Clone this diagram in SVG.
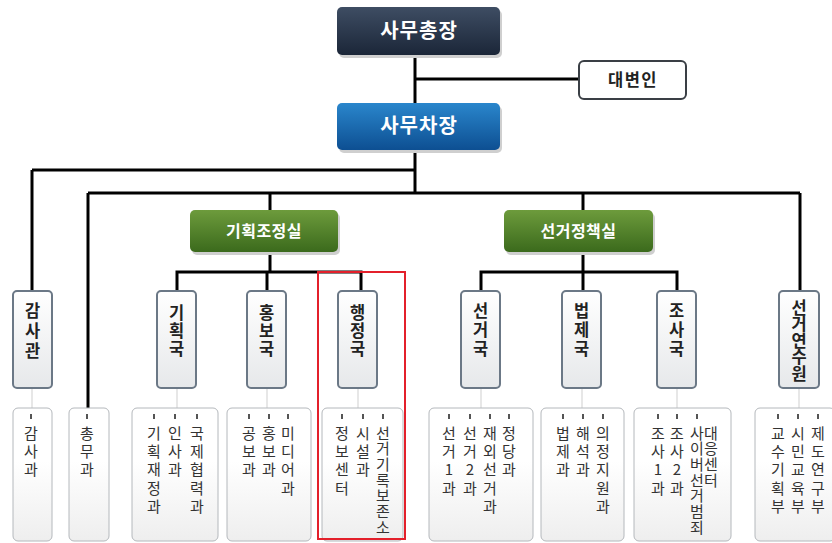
<svg xmlns="http://www.w3.org/2000/svg" width="832" height="543" viewBox="0 0 832 543">
<defs>
<linearGradient id="gNavy" x1="0" y1="0" x2="0" y2="1"><stop offset="0" stop-color="#3e4d63"/><stop offset="1" stop-color="#1b2638"/></linearGradient>
<linearGradient id="gBlue" x1="0" y1="0" x2="0" y2="1"><stop offset="0" stop-color="#2a86cc"/><stop offset="1" stop-color="#0d4f92"/></linearGradient>
<linearGradient id="gGreen" x1="0" y1="0" x2="0" y2="1"><stop offset="0" stop-color="#6d9b3c"/><stop offset="1" stop-color="#3b6a1c"/></linearGradient>
<linearGradient id="gMid" x1="0" y1="0" x2="0" y2="1"><stop offset="0" stop-color="#ffffff"/><stop offset="1" stop-color="#e6e8ea"/></linearGradient>
<linearGradient id="gSub" x1="0" y1="0" x2="0" y2="1"><stop offset="0.4" stop-color="#ffffff"/><stop offset="1" stop-color="#eeeeee"/></linearGradient>
</defs>
<style>
.t{font-family:"Noto Sans CJK KR","Noto Sans",sans-serif}
.top{fill:#fff;font-size:20px;font-weight:bold;text-anchor:middle;letter-spacing:1px}
.grn{fill:#fff;font-size:16px;font-weight:bold;text-anchor:middle;letter-spacing:0.5px}
.v{writing-mode:vertical-rl;text-orientation:upright}
.mid{fill:#222;font-size:16.5px;font-weight:bold;letter-spacing:1.5px}
.sub{fill:#333;font-size:15px;letter-spacing:3.3px}
.tight{letter-spacing:0.7px}
.shadow{fill:#cfcfcf}
.midbox{fill:url(#gMid);stroke:#6b7886;stroke-width:2}
.subbox{fill:url(#gSub);stroke:#b4b8bc;stroke-width:1}
.ln{stroke:#000;stroke-width:3;fill:none}
.thin{stroke:#cfcfcf;stroke-width:1;fill:none}
.dot{fill:#555}
</style>

<g id="connectors">
<path class="ln" d="M415 55V193"/>
<path class="ln" d="M415 79H579"/>
<path class="ln" d="M32 170H415"/>
<path class="ln" d="M32 170V291"/>
<path class="ln" d="M88 193H800"/>
<path class="ln" d="M88 193V408"/>
<path class="ln" d="M270 193V210"/>
<path class="ln" d="M583 193V210"/>
<path class="ln" d="M800 193V291"/>
<path class="ln" d="M270 252V272"/>
<path class="ln" d="M177 291V272H361V291"/>
<path class="ln" d="M267 272V291"/>
<path class="ln" d="M583 252V272"/>
<path class="ln" d="M481 291V272H677V291"/>
<path class="ln" d="M583 272V291"/>
<path class="thin" d="M32 389V408M177 389V408M267 389V408M358 389V408M481 389V408M582 389V408M677 389V408M799 389V408"/>
</g>

<g id="n-sec-gen">
<rect class="shadow" x="339" y="10" width="163" height="48" rx="5"/>
<rect x="337" y="7" width="163" height="48" rx="5" fill="url(#gNavy)"/>
<text class="t top" x="419" y="38" font-size="21">사무총장</text>
</g>
<g id="n-spokes">
<rect x="579" y="61" width="107" height="38" rx="5" fill="#fff" stroke="#3a3f45" stroke-width="2"/>
<text class="t" x="633" y="86" font-size="16.5" font-weight="bold" fill="#222" text-anchor="middle" letter-spacing="1.5">대변인</text>
</g>
<g id="n-dep-sec">
<rect class="shadow" x="339" y="106" width="163" height="47" rx="5"/>
<rect x="337" y="103" width="163" height="47" rx="5" fill="url(#gBlue)"/>
<text class="t top" x="419" y="133">사무차장</text>
</g>
<g id="n-plan-office">
<rect class="shadow" x="192" y="213" width="148" height="42" rx="5"/>
<rect x="190" y="210" width="148" height="42" rx="5" fill="url(#gGreen)"/>
<text class="t grn" x="264" y="237">기획조정실</text>
</g>
<g id="n-policy-office">
<rect class="shadow" x="506" y="213" width="149" height="42" rx="5"/>
<rect x="504" y="210" width="149" height="42" rx="5" fill="url(#gGreen)"/>
<text class="t grn" x="578.5" y="237">선거정책실</text>
</g>

<g id="n-audit">
<rect class="midbox" x="13" y="291" width="39" height="97" rx="4"/>
<text class="t v mid" x="32.5" y="302" style="letter-spacing:3.5px">감사관</text>
</g>
<g id="n-plan-bureau">
<rect class="midbox" x="157" y="291" width="39" height="97" rx="4"/>
<text class="t v mid" x="176.5" y="304">기획국</text>
</g>
<g id="n-pr-bureau">
<rect class="midbox" x="247" y="291" width="39" height="97" rx="4"/>
<text class="t v mid" x="266.5" y="304">홍보국</text>
</g>
<g id="n-admin-bureau">
<rect class="midbox" x="338" y="291" width="39" height="97" rx="4"/>
<text class="t v mid" x="357.5" y="304">행정국</text>
</g>
<g id="n-election-bureau">
<rect class="midbox" x="461" y="291" width="39" height="97" rx="4"/>
<text class="t v mid" x="480.5" y="302" style="letter-spacing:2.5px">선거국</text>
</g>
<g id="n-law-bureau">
<rect class="midbox" x="562" y="291" width="39" height="97" rx="4"/>
<text class="t v mid" x="581.5" y="302" style="letter-spacing:2.5px">법제국</text>
</g>
<g id="n-invest-bureau">
<rect class="midbox" x="657" y="291" width="39" height="97" rx="4"/>
<text class="t v mid" x="676.5" y="302" style="letter-spacing:2.5px">조사국</text>
</g>
<g id="n-institute">
<rect class="midbox" x="779" y="291" width="40" height="97" rx="4"/>
<text class="t v mid" x="799" y="299" style="letter-spacing:0px">선거연수원</text>
</g>

<g id="s-audit">
<rect class="subbox" x="13" y="408" width="39" height="133" rx="5"/>
<rect class="dot" x="30" y="414" width="2" height="5"/>
<text class="t v sub" x="31" y="425.5">감사과</text>
</g>
<g id="s-general">
<rect class="subbox" x="69" y="408" width="40" height="133" rx="5"/>
<rect class="dot" x="86" y="414" width="2" height="5"/>
<text class="t v sub" x="87" y="425.5">총무과</text>
</g>
<g id="s-plan">
<rect class="subbox" x="132" y="408" width="86" height="133" rx="5"/>
<rect class="dot" x="153" y="414" width="2" height="5"/>
<rect class="dot" x="174" y="414" width="2" height="5"/>
<rect class="dot" x="196" y="414" width="2" height="5"/>
<text class="t v sub" x="154" y="425.5">기획재정과</text>
<text class="t v sub" x="175" y="425.5">인사과</text>
<text class="t v sub" x="197" y="425.5">국제협력과</text>
</g>
<g id="s-pr">
<rect class="subbox" x="227" y="408" width="84" height="133" rx="5"/>
<rect class="dot" x="248" y="414" width="2" height="5"/>
<rect class="dot" x="268" y="414" width="2" height="5"/>
<rect class="dot" x="287" y="414" width="2" height="5"/>
<text class="t v sub" x="249" y="425.5">공보과</text>
<text class="t v sub" x="269" y="425.5">홍보과</text>
<text class="t v sub" x="288" y="425.5">미디어과</text>
</g>
<g id="s-admin">
<rect class="subbox" x="322" y="408" width="81" height="133" rx="5"/>
<rect class="dot" x="341" y="414" width="2" height="5"/>
<rect class="dot" x="362" y="414" width="2" height="5"/>
<rect class="dot" x="382" y="414" width="2" height="5"/>
<text class="t v sub" x="342" y="425.5">정보센터</text>
<text class="t v sub" x="363" y="425.5">시설과</text>
<text class="t v sub tight" x="383" y="425.5">선거기록보존소</text>
</g>
<g id="s-election">
<rect class="subbox" x="429" y="408" width="104" height="133" rx="5"/>
<rect class="dot" x="448" y="414" width="2" height="5"/>
<rect class="dot" x="469" y="414" width="2" height="5"/>
<rect class="dot" x="489" y="414" width="2" height="5"/>
<rect class="dot" x="508" y="414" width="2" height="5"/>
<text class="t v sub" x="449" y="425.5">선거1과</text>
<text class="t v sub" x="470" y="425.5">선거2과</text>
<text class="t v sub" x="490" y="425.5">재외선거과</text>
<text class="t v sub" x="509" y="425.5">정당과</text>
</g>
<g id="s-law">
<rect class="subbox" x="541" y="408" width="83" height="133" rx="5"/>
<rect class="dot" x="562" y="414" width="2" height="5"/>
<rect class="dot" x="582" y="414" width="2" height="5"/>
<rect class="dot" x="602" y="414" width="2" height="5"/>
<text class="t v sub" x="563" y="425.5">법제과</text>
<text class="t v sub" x="583" y="425.5">해석과</text>
<text class="t v sub" x="603" y="425.5">의정지원과</text>
</g>
<g id="s-invest">
<rect class="subbox" x="634" y="408" width="97" height="133" rx="5"/>
<rect class="dot" x="657" y="414" width="2" height="5"/>
<rect class="dot" x="676" y="414" width="2" height="5"/>
<rect class="dot" x="696" y="414" width="2" height="5"/>
<text class="t v sub" x="658" y="425.5">조사1과</text>
<text class="t v sub" x="677" y="425.5">조사2과</text>
<text class="t v sub tight" x="697" y="425.5">사이버선거범죄</text>
<text class="t v sub tight" x="711" y="425.5">대응센터</text>
</g>
<g id="s-institute">
<rect class="subbox" x="755" y="408" width="80" height="133" rx="5"/>
<rect class="dot" x="777" y="414" width="2" height="5"/>
<rect class="dot" x="797" y="414" width="2" height="5"/>
<rect class="dot" x="817" y="414" width="2" height="5"/>
<text class="t v sub" x="778" y="425.5">교수기획부</text>
<text class="t v sub" x="798" y="425.5">시민교육부</text>
<text class="t v sub" x="818" y="425.5">제도연구부</text>
</g>

<g id="highlight">
<rect x="318" y="272" width="87" height="267" fill="none" stroke="#e3202b" stroke-width="2"/>
</g>
</svg>
